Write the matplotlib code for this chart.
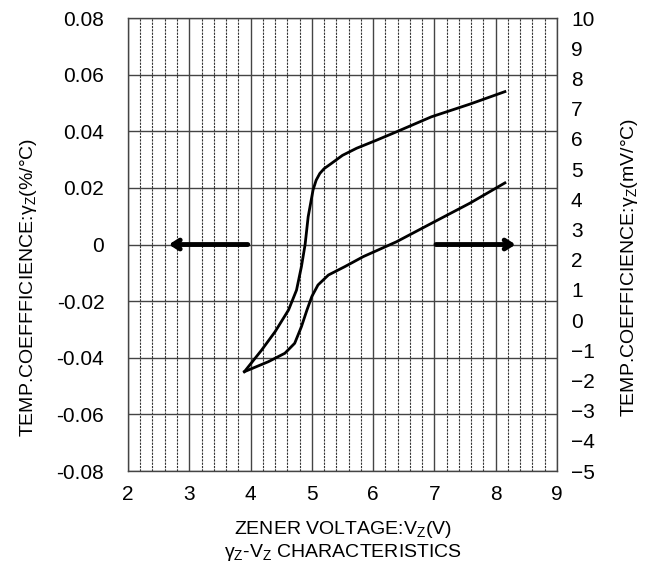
import matplotlib
matplotlib.use("Agg")
import matplotlib.pyplot as plt
import numpy as np

plt.rcParams['font.family'] = ['Liberation Sans', 'DejaVu Sans']
plt.rcParams['mathtext.fontset'] = 'custom'
plt.rcParams['mathtext.rm'] = 'Liberation Sans'
plt.rcParams['mathtext.it'] = 'Liberation Sans'

# gamma_Z in %/degC (left axis)
vz_pct = [3.90, 4.18, 4.40, 4.62, 4.75, 4.83, 4.89, 4.94, 5.02, 5.07, 5.13, 5.20,
          5.31, 5.50, 5.73, 6.05, 6.38, 6.95, 7.58, 8.15]
gamma_pct = [-0.0449, -0.0373, -0.0308, -0.0231, -0.0161, -0.0078, 0.0, 0.0098,
             0.0193, 0.0227, 0.0251, 0.0268, 0.0285, 0.0315, 0.034, 0.0368,
             0.0398, 0.0451, 0.0496, 0.054]

# gamma_Z in mV/degC (right axis)
vz_mv = [3.90, 4.29, 4.56, 4.72, 4.83, 4.92, 5.0, 5.10, 5.27, 5.54, 5.84,
         6.38, 6.95, 7.58, 8.15]
gamma_mv = [-1.71, -1.38, -1.10, -0.77, -0.22, 0.33, 0.78, 1.16, 1.49, 1.77,
            2.10, 2.59, 3.20, 3.87, 4.54]

x_ticks = [2, 3, 4, 5, 6, 7, 8, 9]
left_ticks = [-0.08, -0.06, -0.04, -0.02, 0, 0.02, 0.04, 0.06, 0.08]
left_labels = ['-0.08', '-0.06', '-0.04', '-0.02', '0', '0.02', '0.04', '0.06', '0.08']
right_ticks = list(range(-5, 11))

fig = plt.figure(figsize=(6.58, 5.74), dpi=100)
ax = fig.add_axes([0.1945, 0.1794, 0.652, 0.7892])
ax.set_xlim(2, 9)
ax.set_ylim(-0.08, 0.08)

# grid
for v in np.arange(2.2, 9, 0.2):
    if abs(v - round(v)) > 1e-6:
        ax.axvline(v, color='#333333', lw=0.8, ls=(0, (2, 1)), zorder=1)
for v in x_ticks:
    ax.axvline(v, color='#444444', lw=1.0, zorder=1)
for v in left_ticks:
    ax.axhline(v, color='#444444', lw=1.0, zorder=1)

ax.set_xticks(x_ticks)
ax.set_yticks(left_ticks)
ax.set_yticklabels(left_labels)
ax.tick_params(axis='both', length=0, labelsize=15)
ax.tick_params(axis='y', pad=17)
ax.tick_params(axis='x', pad=10)
for s in ax.spines.values():
    s.set_color('#444444')
    s.set_linewidth(1.0)

ax.plot(vz_pct, gamma_pct, color='black', lw=2, zorder=3, solid_joinstyle='round')

ax.annotate('', xy=(2.62, 0), xytext=(4.0, 0),
            arrowprops=dict(arrowstyle='->,head_length=0.5,head_width=0.32',
                            lw=3.5, color='black'), zorder=4)
ax.annotate('', xy=(8.37, 0), xytext=(6.98, 0),
            arrowprops=dict(arrowstyle='->,head_length=0.5,head_width=0.32',
                            lw=3.5, color='black'), zorder=4)

ax2 = ax.twinx()
ax2.set_ylim(-5, 10)
ax2.set_yticks(right_ticks)
ax2.tick_params(axis='y', length=0, labelsize=15, pad=10)
for s in ax2.spines.values():
    s.set_visible(False)
ax2.plot(vz_mv, gamma_mv, color='black', lw=2, zorder=3, solid_joinstyle='round')

fig.text(0.043, 0.5, r'TEMP.COEFFFICIENCE:$\mathregular{\gamma_Z}$(%/°C)',
         rotation=90, ha='center', va='center', fontsize=14)
fig.text(0.957, 0.535, r'TEMP.COEFFICIENCE:$\mathregular{\gamma_Z}$(mV/°C)',
         rotation=90, ha='center', va='center', fontsize=14)
fig.text(0.521, 0.077, r'ZENER VOLTAGE:$\mathregular{V_Z}$(V)',
         ha='center', va='center', fontsize=14)
fig.text(0.521, 0.037, r'$\mathregular{\gamma_Z}$-$\mathregular{V_Z}$ CHARACTERISTICS',
         ha='center', va='center', fontsize=14)

fig.savefig('out.png', dpi=100)
